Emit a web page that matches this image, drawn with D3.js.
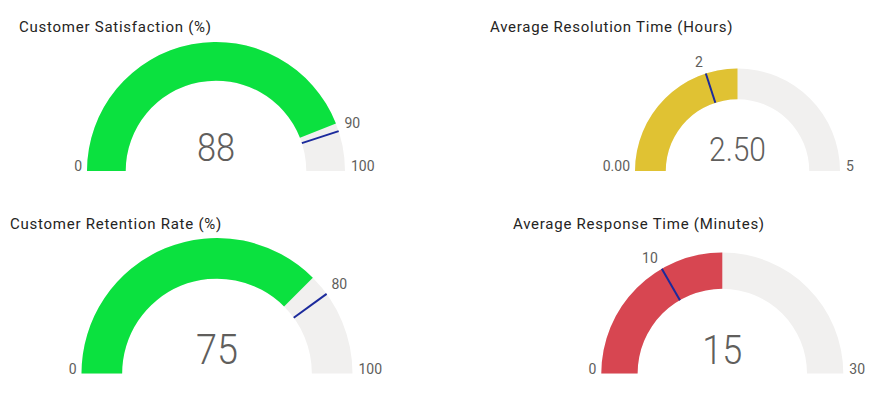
<!DOCTYPE html>
<html>
<head>
<meta charset="utf-8">
<script src="https://cdn.jsdelivr.net/npm/d3@7"></script>
<style>
  body { margin: 0; background: #fff; }
  svg { display: block; }
</style>
</head>
<body>
<div id="chart-area"></div>
<script>
// data
const titles = ["Customer Satisfaction (%)", "Average Resolution Time (Hours)", "Customer Retention Rate (%)", "Average Response Time (Minutes)"];
const values = [88, 2.5, 75, 15];
const valueLabels = ["88", "2.50", "75", "15"];
const mins = [0, 0, 0, 0];
const maxs = [100, 5, 100, 30];
const minLabels = ["0", "0.00", "0", "0"];
const maxLabels = ["100", "5", "100", "30"];
const targets = [90, 2, 80, 10];
const targetLabels = ["90", "2", "80", "10"];
const fillColors = ["#0be13f", "#e0c233", "#0be13f", "#d74651"];

// layout for each panel
const layout = [
    {cx: 216, cy: 171, r: 129, tx: 19, ty: 32, fs: 39},
    {cx: 737.5, cy: 171, r: 102.5, tx: 490, ty: 32, fs: 34},
    {cx: 217, cy: 373.5, r: 135.5, tx: 10, ty: 229, fs: 43},
    {cx: 722.3, cy: 373.5, r: 121, tx: 513, ty: 229, fs: 41}
];

const W = 882, H = 397;
const svg = d3.select("#chart-area").append("svg")
            .attr("width", W).attr("height", H);

const gauges = titles.map((t, i) => ({
    title: t, value: values[i], valueLabel: valueLabels[i],
    min: mins[i], max: maxs[i], minLabel: minLabels[i], maxLabel: maxLabels[i],
    target: targets[i], targetLabel: targetLabels[i], color: fillColors[i], pos: layout[i]
}));

gauges.forEach(function(d) {
    drawGauge(d);
});

function drawGauge(d) {
    const p = d.pos;
    const group = svg.append("g");

    group.append("text")
        .attr("x", p.tx).attr("y", p.ty)
        .attr("font-family", "Roboto, sans-serif")
        .attr("font-size", "15px")
        .attr("letter-spacing", "0.75px")
        .attr("fill", "#252423")
        .text(d.title);

    const angle = d3.scaleLinear()
                .domain([d.min, d.max])
                .range([-Math.PI / 2, Math.PI / 2]);

    const inner = p.r * 0.7;
    const arc = d3.arc().innerRadius(inner).outerRadius(p.r);

    const g = group.append("g").attr("transform", "translate(" + p.cx + "," + p.cy + ")");

    // background track
    g.append("path")
        .attr("d", arc({startAngle: angle(d.min), endAngle: angle(d.max)}))
        .attr("fill", "#f1f0ef");
    // value arc
    g.append("path")
        .attr("d", arc({startAngle: angle(d.min), endAngle: angle(d.value)}))
        .attr("fill", d.color);

    // target line
    const ta = angle(d.target);
    g.append("line")
        .attr("x1", inner * Math.sin(ta)).attr("y1", -inner * Math.cos(ta))
        .attr("x2", p.r * Math.sin(ta)).attr("y2", -p.r * Math.cos(ta))
        .attr("stroke", "#1b2a9c").attr("stroke-width", 2);

    const lblR = p.r + 6;
    g.append("text")
        .attr("x", lblR * Math.sin(ta) + (Math.sin(ta) > 0 ? 0 : -1))
        .attr("y", -lblR * Math.cos(ta) - 1)
        .attr("text-anchor", Math.sin(ta) > 0 ? "start" : "end")
        .attr("font-family", "Roboto, sans-serif")
        .attr("font-size", "14px")
        .attr("fill", "#605e5c")
        .text(d.targetLabel);

    // min / max labels
    g.append("text")
        .attr("x", -p.r - 5).attr("y", 0)
        .attr("text-anchor", "end")
        .attr("font-family", "Roboto, sans-serif")
        .attr("font-size", "14px").attr("fill", "#605e5c")
        .text(d.minLabel);
    g.append("text")
        .attr("x", p.r + 6).attr("y", 0)
        .attr("text-anchor", "start")
        .attr("font-family", "Roboto, sans-serif")
        .attr("font-size", "14px").attr("fill", "#605e5c")
        .text(d.maxLabel);

    // value in the middle
    g.append("text")
        .attr("transform", "translate(0," + (-10) + ") scale(0.88,1)")
        .attr("text-anchor", "middle")
        .attr("font-family", "Roboto, sans-serif")
        .attr("font-weight", 300)
        .attr("font-size", p.fs + "px")
        .attr("fill", "#605e5c")
        .text(d.valueLabel);
}
</script>
</body>
</html>
